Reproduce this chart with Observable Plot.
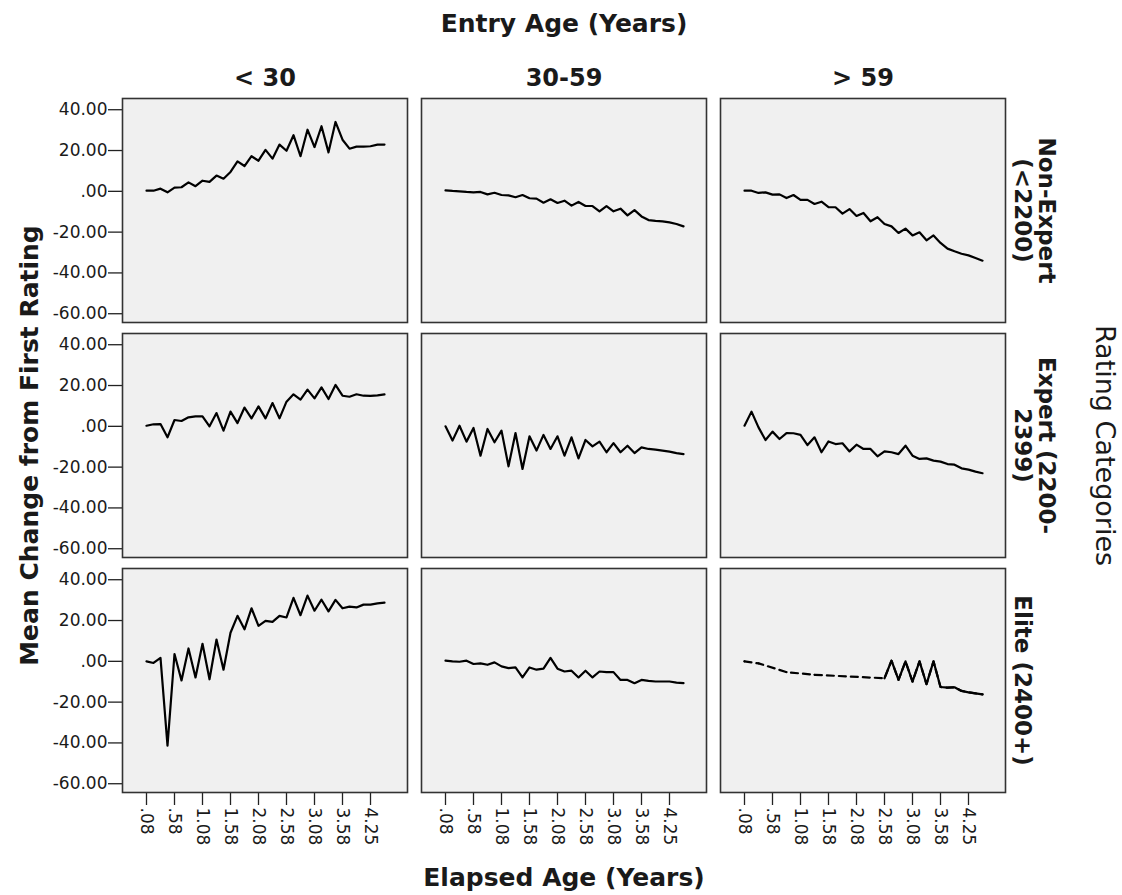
<!DOCTYPE html>
<html><head><meta charset="utf-8">
<script src="https://cdn.jsdelivr.net/npm/d3@7"></script>
<script src="https://cdn.jsdelivr.net/npm/@observablehq/plot@0.6"></script>
<style>body{margin:0;background:#fff} svg{display:block}</style>
</head><body><div id="chart"></div>
<script>
const entryAges = ["< 30", "30-59", "> 59"];
const ratingCats = ["Non-Expert (<2200)", "Expert (2200-2399)", "Elite (2400+)"];
const ratingLabels = ["Non-Expert\n(<2200)", "Expert (2200-\n2399)", "Elite (2400+)"];
const elapsed = [".08",".21",".33",".46",".58",".71",".83",".96","1.08","1.21","1.33","1.46","1.58","1.71","1.83","1.96","2.08","2.21","2.33","2.46","2.58","2.71","2.83","2.96","3.08","3.21","3.33","3.46","3.58","3.75","3.92","4.08","4.25","4.42","4.58"];
const xTicks = [".08", ".58", "1.08", "1.58", "2.08", "2.58", "3.08", "3.58", "4.25"];
const yTicks = [40, 20, 0, -20, -40, -60];
const yTickLabels = ["40.00", "20.00", ".00", "-20.00", "-40.00", "-60.00"];

const nonExpertUnder30 = [0.3,0.3,1.3,-0.5,1.8,2.0,4.4,2.5,5.2,4.6,7.7,6.2,9.5,14.7,12.4,17.2,15.0,20.3,16.0,22.9,19.9,27.5,17.2,30.2,21.7,31.9,19.1,34.0,25.3,20.9,21.9,21.9,22.1,22.9,22.9];
const nonExpert3059 = [0.5,0.2,0,-0.3,-0.5,-0.3,-1.5,-0.7,-1.8,-2.0,-2.9,-1.8,-3.4,-3.6,-5.6,-3.9,-5.7,-4.6,-7.0,-5.2,-7.2,-7.2,-9.8,-7.2,-9.8,-8.5,-11.8,-9.2,-12.3,-14.1,-14.5,-14.7,-15.2,-16.0,-17.2];
const nonExpertOver59 = [0.3,0.3,-0.8,-0.5,-1.6,-1.5,-3.3,-1.8,-4.2,-4.2,-6.2,-5.1,-7.7,-7.8,-10.9,-8.7,-12.1,-10.6,-14.7,-12.7,-16.0,-17.2,-20.4,-18.3,-21.6,-20.1,-24.0,-21.6,-25.3,-28.1,-29.4,-30.6,-31.4,-32.7,-34.0];
const expertUnder30 = [0.3,1.0,1.1,-5.4,3.1,2.6,4.4,4.9,4.9,0,6.5,-2.1,7.2,1.6,9.2,3.9,9.8,3.9,11.4,3.9,12.1,15.7,13.1,18.0,13.7,19.1,13.4,20.3,15.0,14.5,15.7,15.0,14.9,15.2,15.7];
const expert3059 = [0,-7.0,0.3,-7.5,-0.8,-14.4,-1.3,-7.8,-2.1,-19.6,-3.3,-20.9,-4.9,-11.9,-4.2,-11.1,-4.9,-14.4,-5.4,-15.7,-6.7,-9.8,-7.5,-12.7,-8.2,-12.7,-9.5,-13.1,-10.3,-11.1,-11.4,-11.9,-12.4,-13.1,-13.6];
const expertOver59 = [0.3,7.2,-0.5,-6.7,-2.6,-6.2,-3.3,-3.4,-4.2,-9.2,-5.4,-12.7,-7.4,-8.7,-8.3,-12.3,-9.0,-11.1,-11.1,-14.7,-12.3,-12.7,-13.6,-9.5,-14.4,-16.0,-15.7,-16.8,-17.3,-18.5,-18.8,-20.6,-21.2,-22.2,-23.0];
const eliteUnder30 = [0,-0.8,1.7,-41.3,3.6,-9.4,6.3,-7.9,8.6,-8.8,10.7,-4.1,14.0,22.3,15.7,26.0,17.4,19.8,19.3,22.3,21.5,31.1,22.6,32.2,24.8,30.2,24.5,30.1,26.0,26.8,26.4,27.8,27.8,28.4,28.8];
const elite3059 = [0.3,0,-0.2,0.3,-1.3,-1.0,-1.7,-0.5,-2.5,-3.3,-3.0,-7.9,-3.0,-4.1,-3.6,1.7,-3.6,-5.0,-4.6,-7.9,-4.6,-7.9,-5.0,-5.3,-5.3,-9.1,-9.1,-10.7,-9.1,-9.6,-9.9,-9.9,-9.9,-10.4,-10.7];
const eliteOver59 = [0,null,-1.0,null,null,null,-5.3,null,null,null,-6.6,null,null,null,null,null,null,null,null,null,-8.3,0.3,-9.1,0,-9.9,0,-11.2,0,-12.6,-12.9,-12.7,-14.5,-15.2,-15.7,-16.2];

const series = [
  [ratingCats[0], entryAges[0], nonExpertUnder30],
  [ratingCats[0], entryAges[1], nonExpert3059],
  [ratingCats[0], entryAges[2], nonExpertOver59],
  [ratingCats[1], entryAges[0], expertUnder30],
  [ratingCats[1], entryAges[1], expert3059],
  [ratingCats[1], entryAges[2], expertOver59],
  [ratingCats[2], entryAges[0], eliteUnder30],
  [ratingCats[2], entryAges[1], elite3059],
  [ratingCats[2], entryAges[2], eliteOver59]
];
const rows = series.flatMap(([r, e, vals]) => vals.map((v, i) => ({rating: r, entry: e, elapsed: elapsed[i], value: v})));
const interpolated = rows.filter(d => d.rating === ratingCats[2] && d.entry === entryAges[2] && d.value != null);

const font = "DejaVu Sans";
const ink = "#1a1a1a";

const chart = Plot.plot({
  width: 1122,
  height: 895,
  marginLeft: 121,
  marginRight: 117,
  marginTop: 98,
  marginBottom: 103,
  style: {fontFamily: font, background: "#fff", color: ink},
  fx: {domain: entryAges, paddingInner: 0.047, paddingOuter: 0, axis: null},
  fy: {domain: ratingCats, paddingInner: 0.047, paddingOuter: 0, axis: null},
  x: {type: "point", domain: elapsed, padding: 2.54},
  y: {domain: [-64.3, 45.5]},
  marks: [
    Plot.frame({fill: "#f0f0f0"}),
    Plot.axisY({ticks: yTicks, tickFormat: d => yTickLabels[yTicks.indexOf(d)], tickSize: 14, tickPadding: 1, fontSize: 17, label: null, stroke: "#222", strokeWidth: 1.3}),
    Plot.axisX({ticks: xTicks, tickRotate: 90, tickSize: 13, tickPadding: 2, fontSize: 17, label: null, stroke: "#222", strokeWidth: 1.3}),
    Plot.line(interpolated, {fx: "entry", fy: "rating", x: "elapsed", y: "value", stroke: "#000", strokeWidth: 2.2, strokeDasharray: "7,5"}),
    Plot.line(rows, {fx: "entry", fy: "rating", x: "elapsed", y: "value", stroke: "#000", strokeWidth: 2.2}),
    Plot.frame({stroke: "#333", strokeWidth: 1.6}),
    Plot.text(entryAges, {fx: d => d, fy: () => ratingCats[0], text: d => d, frameAnchor: "top", lineAnchor: "middle", dy: -20, fontSize: 24, fontWeight: "bold", fill: ink}),
    Plot.text(ratingCats, {fy: d => d, fx: () => entryAges[2], text: (d, i) => ratingLabels[i], frameAnchor: "right", textAnchor: "middle", dx: 9, rotate: 90, lineAnchor: "bottom", lineHeight: 1.05, fontSize: 23, fontWeight: "bold", fill: ink}),
    Plot.text(["Entry Age (Years)"], {facet: "super", frameAnchor: "top", lineAnchor: "middle", dy: -75, fontSize: 25, fontWeight: "bold", fill: ink}),
    Plot.text(["Elapsed Age (Years)"], {facet: "super", frameAnchor: "bottom", lineAnchor: "middle", dy: 85, fontSize: 25, fontWeight: "bold", fill: ink}),
    Plot.text(["Mean Change from First Rating"], {facet: "super", frameAnchor: "left", textAnchor: "middle", dx: -93, rotate: -90, fontSize: 25, fontWeight: "bold", fill: ink}),
    Plot.text(["Rating Categories"], {facet: "super", frameAnchor: "right", textAnchor: "middle", dx: 99, rotate: 90, fontSize: 27, fill: ink})
  ]
});
document.getElementById("chart").appendChild(chart);
</script>
</body></html>
